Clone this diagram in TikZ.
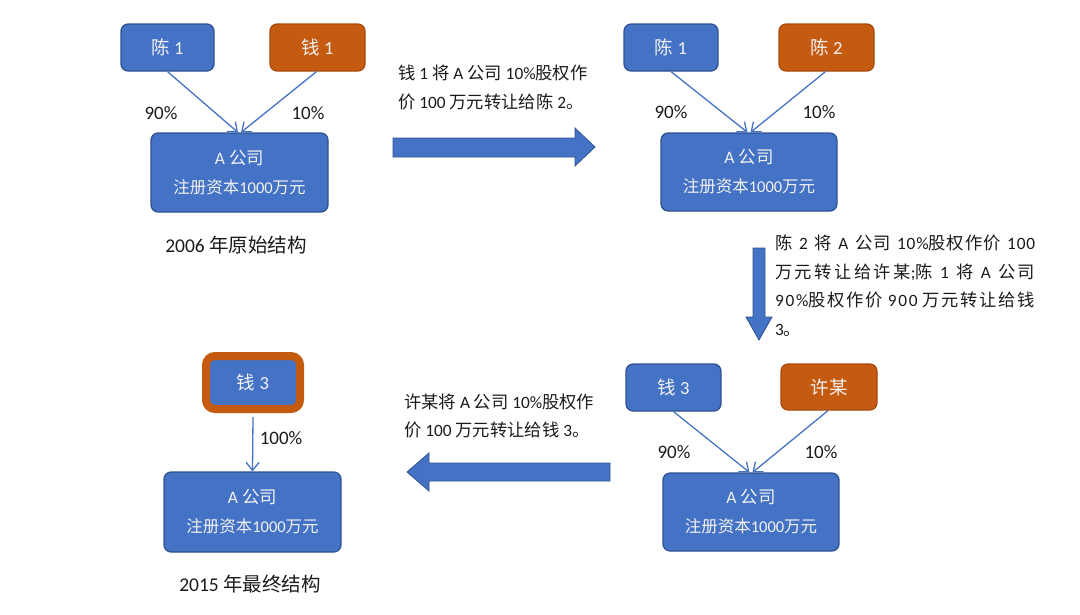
\documentclass[tikz,border=0pt]{standalone}
\usepackage{fontspec}
\setmainfont{Carlito}
\newfontfamily\cjkf{Noto Sans CJK SC}
\newfontfamily\cjkw{Noto Sans CJK SC}[LetterSpace=5]
\newfontfamily\latw{Carlito}[LetterSpace=5]
\newfontfamily\cjkx{Noto Sans CJK SC}[LetterSpace=14]
\newfontfamily\latx{Carlito}[LetterSpace=14]
\newfontfamily\cjky{Noto Sans CJK SC}[LetterSpace=10]
\newfontfamily\laty{Carlito}[LetterSpace=10]
\usetikzlibrary{arrows.meta}
\newcommand\zh[1]{{\cjkf #1}}
\newcommand\zw[1]{{\cjkw #1}}
\newcommand\zx[1]{{\cjkx #1}}
\newcommand\zy[1]{{\cjky #1}}
\newcommand\jline[1]{\makebox[260pt][s]{#1}}
\definecolor{bfill}{HTML}{4472C4}
\definecolor{bdraw}{HTML}{2F528F}
\definecolor{ofill}{HTML}{C55A11}
\definecolor{odraw}{HTML}{A84A0C}
\definecolor{btext}{HTML}{F2F2F2}
\definecolor{ltext}{HTML}{1A1A1A}
\tikzset{
  bbox/.style={draw=bdraw, fill=bfill, line width=1.2pt, rounded corners=7pt, text=btext, inner sep=0pt, font=\fontsize{18.5}{20}\selectfont},
  obox/.style={bbox, draw=odraw, fill=ofill},
  cobox/.style={bbox, align=center, font=\fontsize{17.5}{29}\selectfont},
  conn/.style={draw=bfill, line width=1.3pt, -{Straight Barb[length=8pt,width=13pt]}},
  pct/.style={text=ltext, inner sep=0pt, font=\fontsize{19}{20}\selectfont},
  captext/.style={pct, font=\fontsize{19.5}{20}\selectfont},
  note/.style={text=ltext, inner sep=0pt, align=left, anchor=west, font=\fontsize{17.3}{28.5}\selectfont},
  widenote/.style={note, font=\latw\fontsize{17.3}{28.5}\selectfont},
  barrow/.style={fill=bfill, draw=bdraw, line width=0.8pt},
}
\newcommand\reg{{\fontsize{16.5}{16.5}\selectfont\zh{注册资本}1000\zh{万元}}}
\begin{document}
\begin{tikzpicture}[x=1pt,y=-1pt]
\useasboundingbox (0,0) rectangle (1080,614);
% ---------- group 1
\node[bbox, minimum width=93pt, minimum height=47pt] (c1) at (167.5,47.5) {\zh{陈} 1};
\node[obox, minimum width=95pt, minimum height=47pt] (q1) at (317.5,47.5) {\zh{钱} 1};
\node[cobox, minimum width=177pt, minimum height=79pt] (a1) at (239.5,172.5) {A \zh{公司}\\\reg};
\draw[conn] (c1.south) -- ([xshift=-1.5pt]a1.north);
\draw[conn] ([xshift=-1pt]q1.south) -- ([xshift=1.5pt]a1.north);
\node[pct] (p1a) at (161,113) {90\%};
\node[pct] (p1b) at (308,113) {10\%};
\node[captext] (cap1) at (236,245) {2006 \zh{年原始结构}};
% ---------- step arrow 1
\node[note] (n1) at (398,87.5) {\zh{钱} 1 \zh{将} A \zh{公司} 10\%\zh{股权作}\\\zh{价} 100 \zh{万元转让给陈} 2\zh{。}};
\coordinate (r1) at (393,138);
\draw[barrow] (r1) -- ++(182,0) -- ++(0,-10) -- (595,147) -- (575,166) -- ++(0,-9) -- (393,157) -- cycle;
% ---------- group 2
\node[bbox, minimum width=94pt, minimum height=47pt] (c1b) at (671,47.5) {\zh{陈} 1};
\node[obox, minimum width=95pt, minimum height=47pt] (c2) at (826.5,47.5) {\zh{陈} 2};
\node[cobox, minimum width=176pt, minimum height=78pt] (a2) at (749,172) {A \zh{公司}\\\reg};
\draw[conn] (c1b.south) -- ([xshift=-1.5pt]a2.north);
\draw[conn] ([xshift=-1pt]c2.south) -- ([xshift=1.5pt]a2.north);
\node[pct] (p2a) at (671,112) {90\%};
\node[pct] (p2b) at (819,112) {10\%};
% ---------- step arrow 2
\coordinate (d1) at (753,248);
\draw[barrow] (d1) -- (765,248) -- (765,317) -- (772,317) -- (759,340) -- (746,317) -- (753,317) -- cycle;
\node[widenote] (n2) at (775,285.5) {\jline{\zw{陈} 2 \zw{将} A \zw{公司} 10\%\zw{股权作价} 100}\\\jline{\latx\zx{万元转让给许某};\zx{陈} 1 \zx{将} A \zx{公司}}\\\jline{\laty 90\%\zy{股权作价} 900 \zy{万元转让给钱}}\\3\zw{。}};
% ---------- group 3
\node[bbox, minimum width=95pt, minimum height=47pt] (q3) at (673.5,387.5) {\zh{钱} 3};
\node[obox, minimum width=96pt, minimum height=46pt] (xm) at (829,387) {\zh{许某}};
\node[cobox, minimum width=176pt, minimum height=78pt] (a3) at (751,512) {A \zh{公司}\\\reg};
\draw[conn] (q3.south) -- ([xshift=-1.5pt]a3.north);
\draw[conn] ([xshift=-1pt]xm.south) -- ([xshift=1.5pt]a3.north);
\node[pct] (p3a) at (674,452) {90\%};
\node[pct] (p3b) at (821,452) {10\%};
% ---------- step arrow 3
\node[note] (n3) at (404,416) {\zh{许某将} A \zh{公司} 10\%\zh{股权作}\\\zh{价} 100 \zh{万元转让给钱} 3\zh{。}};
\coordinate (l1) at (610,463);
\draw[barrow] (l1) -- (610,481) -- (429,481) -- (429,491) -- (407,472) -- (429,453) -- (429,463) -- cycle;
% ---------- group 4
\node[bbox, draw=ofill, line width=8pt, rounded corners=9pt, minimum width=94pt, minimum height=53pt] (q4) at (253,382.5) {\zh{钱} 3};
\node[cobox, minimum width=177pt, minimum height=80pt] (a4) at (252.5,512) {A \zh{公司}\\\reg};
\draw[conn] ([yshift=-4pt]q4.south) -- (a4.north);
\node[pct] (p4) at (281,438) {100\%};
\node[captext] (cap2) at (250,584) {2015 \zh{年最终结构}};
\end{tikzpicture}
\end{document}
